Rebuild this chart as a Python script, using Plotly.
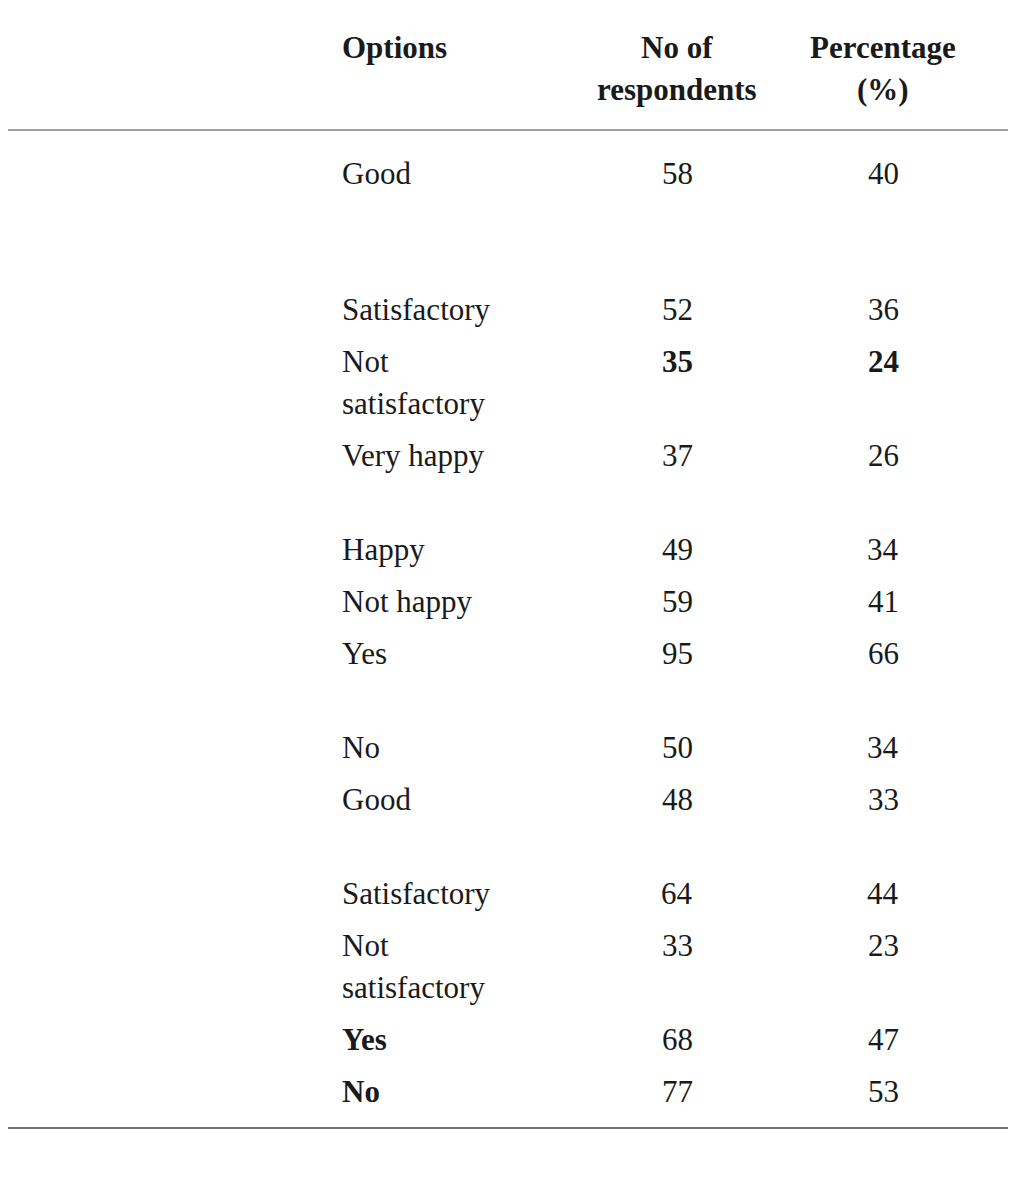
import plotly.graph_objects as go

# table data
factors = ["Opinion of the<br>workers towards<br>working environment", "", "",
           "Opinion about<br>working hours", "", "",
           "Opinion about heavy<br>work load", "",
           "Relationship with the<br>fellow workers", "", "",
           "Opinion about stress", ""]
options = ["Good", "Satisfactory", "Not<br>satisfactory",
           "Very happy", "Happy", "Not happy",
           "Yes", "No",
           "Good", "Satisfactory", "Not<br>satisfactory",
           "Yes", "No"]
respondents = [58, 52, 35, 37, 49, 59, 95, 50, 48, 64, 33, 68, 77]
percentage = [40, 36, 24, 26, 34, 41, 66, 34, 33, 44, 23, 47, 53]
bold_values = [False, False, True, False, False, False, False, False, False, False, False, False, False]
bold_options = [False] * 11 + [True, True]

headers = ["Factors", "Options", "No of<br>respondents", "Percentage<br>(%)"]
source = "Source: Primary data."

W, H = 1016, 1184
OFF = 8  # page body margin
LINE = 42
SERIF = "Liberation Serif"
FS = 31

col_x = [5, 340, 677, 883]
col_anchor = ["left", "left", "center", "center"]

fig = go.Figure()
fig.add_trace(go.Scatter(x=[0], y=[0], mode="markers", marker=dict(opacity=0), hoverinfo="skip"))

def add_cell(text, x, anchor, y0, bold=False):
    for i, line in enumerate(text.split("<br>")):
        if bold:
            line = "<b>" + line + "</b>"
        fig.add_annotation(x=x, y=y0 + i * LINE, text=line, showarrow=False,
                           xanchor=anchor, yanchor="middle",
                           font=dict(family=SERIF, size=FS, color="#1a1a1a"))

# header
for h, x, a in zip(headers, col_x, col_anchor):
    add_cell(h, x, a, 47, bold=True)

y = 173
for f, o, r, p, bv, bo in zip(factors, options, respondents, percentage, bold_values, bold_options):
    nlines = max(f.count("<br>"), o.count("<br>")) + 1
    add_cell(f, col_x[0], "left", y)
    add_cell(o, col_x[1], "left", y, bold=bo)
    add_cell(str(r), col_x[2], "center", y, bold=bv)
    add_cell(str(p), col_x[3], "center", y, bold=bv)
    y += nlines * LINE + 10

for ly, lw in [(5, 1.5), (130, 1.2), (1128, 1.5)]:
    fig.add_shape(type="line", x0=0, x1=1012, y0=ly, y1=ly,
                  line=dict(color="#444", width=lw))

fig.add_annotation(x=5, y=1162, text=source, showarrow=False, xanchor="left",
                   yanchor="middle", font=dict(family="Open Sans", size=23, color="#222"))

fig.update_xaxes(range=[OFF, W + OFF], visible=False)
fig.update_yaxes(range=[H + OFF, OFF], visible=False)
fig.update_layout(width=W, height=H, margin=dict(l=0, r=0, t=0, b=0),
                  plot_bgcolor="white", paper_bgcolor="white", showlegend=False)
fig.write_html("out.html")
